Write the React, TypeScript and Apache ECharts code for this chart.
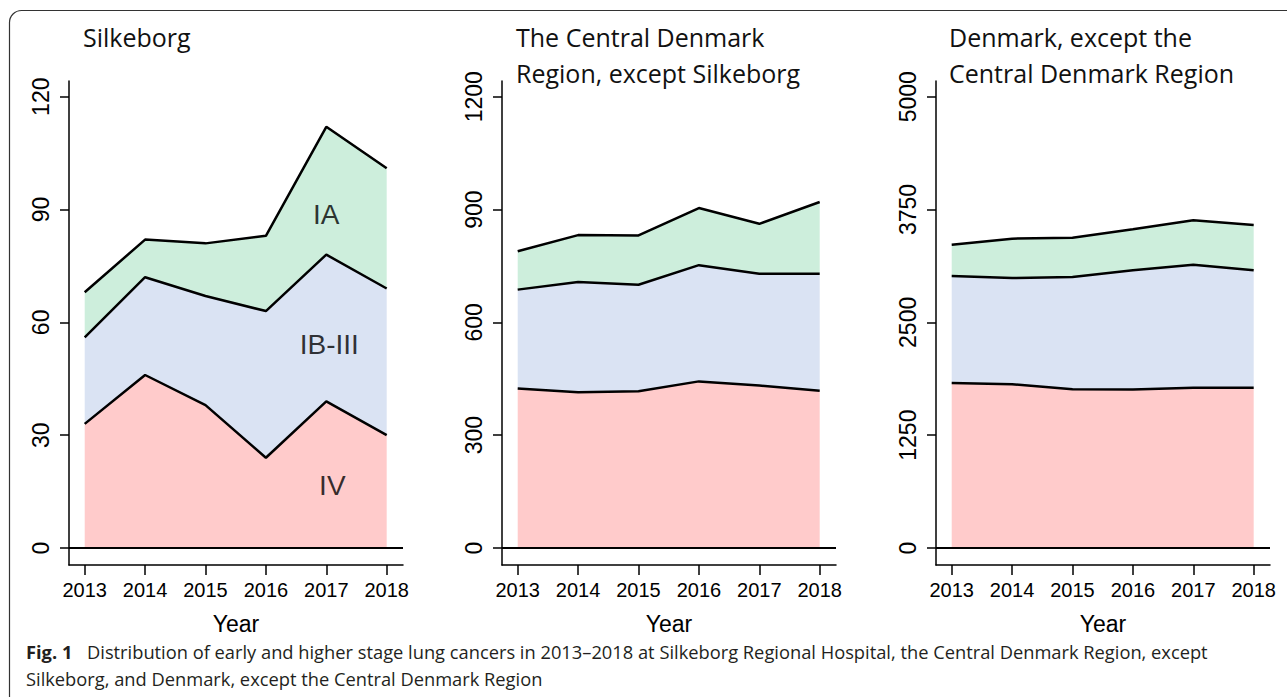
import React, { useEffect, useRef } from "react";
import * as echarts from "echarts";

// ---- data ----
const years = [2013, 2014, 2015, 2016, 2017, 2018];
const stageNames = ["IV", "IB-III", "IA"];
const panelTitles = [
  "Silkeborg",
  "The Central Denmark\nRegion, except Silkeborg",
  "Denmark, except the\nCentral Denmark Region",
];

const silkeborgIV = [33, 46, 38, 24, 39, 30];
const silkeborgIBIII = [23, 26, 29, 39, 39, 39];
const silkeborgIA = [12, 10, 14, 20, 34, 32];

const centralIV = [424, 414, 417, 443, 432, 418];
const centralIBIII = [263, 293, 283, 309, 297, 311];
const centralIA = [102, 125, 131, 152, 133, 191];

const denmarkIV = [1827, 1815, 1760, 1756, 1775, 1775];
const denmarkIBIII = [1186, 1176, 1242, 1320, 1364, 1301];
const denmarkIA = [348, 436, 436, 455, 491, 503];

const silkeborgTicks = [0, 30, 60, 90, 120];
const centralTicks = [0, 300, 600, 900, 1200];
const denmarkTicks = [0, 1250, 2500, 3750, 5000];

// stage label anchors (data coordinates of the Silkeborg panel)
const stageLabelX = [2017.1, 2017.05, 2017.0];
const stageLabelY = [16.6, 54, 88.6];

const captionBold = "Fig. 1";
const captionLine1 =
  "Distribution of early and higher stage lung cancers in 2013\u20132018 at Silkeborg Regional Hospital, the Central Denmark Region, except";
const captionLine2 = "Silkeborg, and Denmark, except the Central Denmark Region";

const stageColors = ["#FFCBCB", "#DAE3F3", "#CDEEDC"];

export default function App() {
  const ref = useRef<HTMLDivElement>(null);

  useEffect(() => {
    if (!ref.current) return;
    const chart = echarts.init(ref.current, null, { renderer: "svg" });

    const panels = [
      { stages: [silkeborgIV, silkeborgIBIII, silkeborgIA], ticks: silkeborgTicks },
      { stages: [centralIV, centralIBIII, centralIA], ticks: centralTicks },
      { stages: [denmarkIV, denmarkIBIII, denmarkIA], ticks: denmarkTicks },
    ];
    const gridLefts = [69, 502, 936];
    const titleLefts = [83, 516, 949];
    const axisFont = "'Liberation Sans', Arial, sans-serif";
    const titleFont = "'Open Sans', sans-serif";

    const series: any[] = [];
    panels.forEach((p, pi) => {
      // filled areas (white hairline edges like the original polygons)
      p.stages.forEach((vals, si) => {
        const s: any = {
          type: "line",
          name: stageNames[si],
          xAxisIndex: pi,
          yAxisIndex: pi,
          stack: "area" + pi,
          // value first so the stack is applied to the y (count) dimension
          data: years.map((y, i) => [vals[i], y]),
          encode: { x: 1, y: 0 },
          symbol: "none",
          lineStyle: { color: "#fff", width: 1 },
          areaStyle: { color: stageColors[si], opacity: 1 },
          z: 2 + si,
          silent: true,
        };
        if (si === 0) {
          s.markLine = {
            silent: true,
            symbol: "none",
            label: { show: false },
            lineStyle: { color: "#000", width: 2.2, type: "solid" },
            data: [{ yAxis: 0 }],
            z: 10,
          };
        }
        series.push(s);
      });
      // black boundary lines on top
      p.stages.forEach((vals, si) => {
        series.push({
          type: "line",
          name: stageNames[si] + " line",
          xAxisIndex: pi,
          yAxisIndex: pi,
          stack: "line" + pi,
          data: years.map((y, i) => [vals[i], y]),
          encode: { x: 1, y: 0 },
          symbol: "none",
          lineStyle: { color: "#000", width: 2.5 },
          z: 8,
          silent: true,
        });
      });
    });

    series.push({
      type: "scatter",
      xAxisIndex: 0,
      yAxisIndex: 0,
      symbolSize: 1,
      itemStyle: { color: "rgba(0,0,0,0)" },
      data: stageNames.map((n, i) => ({ name: n, value: [stageLabelX[i], stageLabelY[i]] })),
      label: {
        show: true,
        position: "inside",
        formatter: "{b}",
        fontSize: 28,
        fontFamily: axisFont,
        color: "#000",
      },
      z: 20,
      silent: true,
    });

    const option: any = {
      animation: false,
      backgroundColor: "#fff",
      title: panelTitles.map((t, i) => ({
        text: t,
        left: titleLefts[i],
        top: 19,
        padding: 0,
        textStyle: {
          fontFamily: titleFont,
          fontSize: 25,
          fontWeight: "normal",
          color: "#111",
          lineHeight: 36,
        },
      })),
      grid: gridLefts.map((l) => ({ left: l, top: 81, width: 334, height: 484 })),
      xAxis: gridLefts.map((_, i) => ({
        type: "value",
        gridIndex: i,
        min: 2012.74,
        max: 2018.27,
        splitLine: { show: false },
        axisLine: { show: true, onZero: false, lineStyle: { color: "#000", width: 1.5 } },
        axisTick: { show: true, length: 10, customValues: years, lineStyle: { color: "#000", width: 1.5 } },
        axisLabel: {
          customValues: years,
          formatter: (v: number) => String(v),
          fontSize: 20,
          fontFamily: axisFont,
          color: "#000",
          margin: 15,
        },
        name: "Year",
        nameLocation: "middle",
        nameGap: 47,
        nameTextStyle: { fontSize: 23, fontFamily: axisFont, color: "#000" },
      })),
      yAxis: panels.map((p, i) => {
        const top = p.ticks[p.ticks.length - 1];
        return {
          type: "value",
          gridIndex: i,
          min: -0.0377 * top,
          max: 1.0348 * top,
          splitLine: { show: false },
          axisLine: { show: true, onZero: false, lineStyle: { color: "#000", width: 1.5 } },
          axisTick: { show: true, length: 9, customValues: p.ticks, lineStyle: { color: "#000", width: 1.5 } },
          axisLabel: {
            customValues: p.ticks,
            formatter: (v: number) => String(v),
            rotate: 90,
            fontSize: 23,
            fontFamily: axisFont,
            color: "#000",
            margin: 17,
          },
        };
      }),
      series,
      graphic: [
        {
          type: "rect",
          silent: true,
          shape: { x: 9.5, y: 10.5, width: 1300, height: 720, r: 12 },
          style: { fill: "none", stroke: "#333", lineWidth: 1.2 },
          z: 100,
        },
        {
          type: "text",
          silent: true,
          left: 26,
          top: 642,
          style: {
            text: captionBold,
            fontFamily: titleFont,
            fontWeight: "bold",
            fontSize: 18.3,
            fill: "#231f20",
          },
        },
        {
          type: "text",
          silent: true,
          left: 87,
          top: 642,
          style: { text: captionLine1, fontFamily: titleFont, fontSize: 18.3, fill: "#231f20" },
        },
        {
          type: "text",
          silent: true,
          left: 26,
          top: 669,
          style: { text: captionLine2, fontFamily: titleFont, fontSize: 18.3, fill: "#231f20" },
        },
      ],
    };

    chart.setOption(option);
    return () => chart.dispose();
  }, []);

  return (
    <div
      ref={ref}
      style={{ position: "absolute", left: 0, top: 0, width: 1287, height: 697, background: "#fff" }}
    />
  );
}
